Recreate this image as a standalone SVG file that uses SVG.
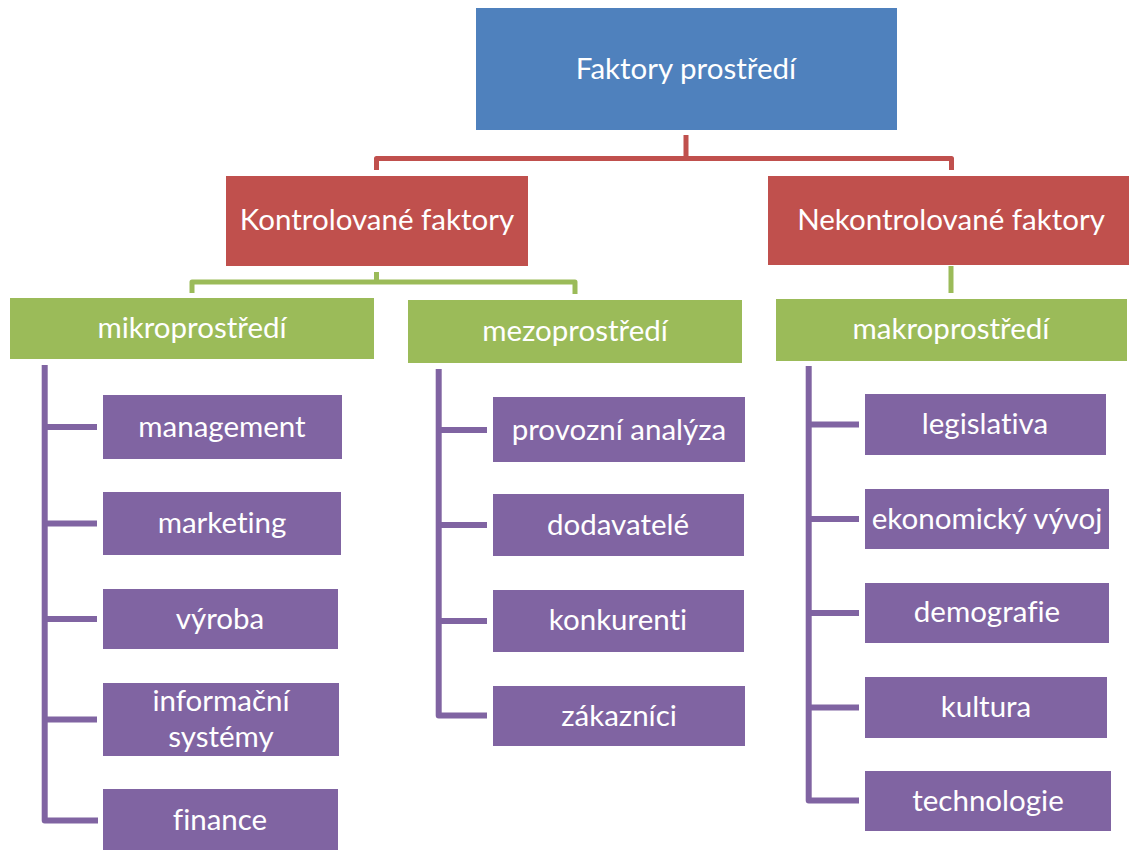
<svg xmlns="http://www.w3.org/2000/svg" width="1129" height="850" viewBox="0 0 1129 850">
  <style>
    .blue { fill: #4F81BD; }
    .red { fill: #C0504D; }
    .green { fill: #9BBB59; }
    .purple { fill: #8064A2; }
    text { font-family: Lato, "Open Sans", "Liberation Sans", sans-serif; fill: #FFFFFF; text-anchor: middle; dominant-baseline: central; font-variant-ligatures: none; }
    .t1 { font-size: 29.5px; }
    .t2 { font-size: 29.5px; }
    .c-red { fill: none; stroke: #C0504D; stroke-width: 5; stroke-linejoin: round; }
    .c-green { fill: none; stroke: #9BBB59; stroke-width: 5; stroke-linejoin: round; }
    .c-purple { fill: none; stroke: #8064A2; stroke-width: 6; stroke-linejoin: round; }
  </style>
  <rect width="1129" height="850" fill="#FFFFFF"/>

  <!-- connectors -->
  <g id="connectors">
    <path class="c-red" d="M686,135 V158.5 M376.5,170 V158.5 H951.5 V170"/>
    <path class="c-green" d="M376.5,272 V282 M192,293 V282 H575 V294"/>
    <path class="c-green" d="M951,266 V293"/>
    <!-- mikroprostředí branch -->
    <path class="c-purple" d="M44.7,365 V820.5 H98"/>
    <path class="c-purple" d="M44.7,427 H97 M44.7,523.5 H97 M44.7,619 H97 M44.7,719.5 H97"/>
    <!-- mezoprostředí branch -->
    <path class="c-purple" d="M438.7,369 V715.5 H487"/>
    <path class="c-purple" d="M438.7,430 H487 M438.7,525 H487 M438.7,621 H487"/>
    <!-- makroprostředí branch -->
    <path class="c-purple" d="M808.7,366 V800.5 H859"/>
    <path class="c-purple" d="M808.7,424.5 H859 M808.7,519 H859 M808.7,613 H859 M808.7,707.5 H859"/>
  </g>

  <g id="root">
    <rect class="blue" x="476" y="8" width="421" height="122"/>
    <text class="t1" x="686" y="67">Faktory prostředí</text>
  </g>

  <g id="kontrolovane">
    <rect class="red" x="226" y="176" width="302" height="90"/>
    <text class="t1" x="377" y="218">Kontrolované faktory</text>
  </g>
  <g id="nekontrolovane">
    <rect class="red" x="768" y="176" width="361" height="89"/>
    <text class="t1" x="951" y="218">Nekontrolované faktory</text>
  </g>

  <g id="mikro">
    <rect class="green" x="10" y="298" width="364" height="61"/>
    <text class="t2" x="192" y="326">mikroprostředí</text>
  </g>
  <g id="mezo">
    <rect class="green" x="408" y="300" width="334" height="63"/>
    <text class="t2" x="575" y="329">mezoprostředí</text>
  </g>
  <g id="makro">
    <rect class="green" x="776" y="299" width="351" height="62"/>
    <text class="t2" x="951" y="327">makroprostředí</text>
  </g>

  <!-- mikroprostředí items -->
  <g id="management">
    <rect class="purple" x="103" y="395" width="239" height="64"/>
    <text class="t2" x="222" y="425">management</text>
  </g>
  <g id="marketing">
    <rect class="purple" x="103" y="492" width="238" height="63"/>
    <text class="t2" x="222" y="521">marketing</text>
  </g>
  <g id="vyroba">
    <rect class="purple" x="103" y="589" width="235" height="60"/>
    <text class="t2" x="220" y="617">výroba</text>
  </g>
  <g id="informacni-systemy">
    <rect class="purple" x="103" y="683" width="236" height="73"/>
    <text class="t2" x="221" y="699">informační</text>
    <text class="t2" x="221" y="735">systémy</text>
  </g>
  <g id="finance">
    <rect class="purple" x="103" y="789" width="235" height="61"/>
    <text class="t2" x="220" y="818">finance</text>
  </g>

  <!-- mezoprostředí items -->
  <g id="provozni-analyza">
    <rect class="purple" x="493" y="397" width="252" height="65"/>
    <text class="t2" x="619" y="428">provozní analýza</text>
  </g>
  <g id="dodavatele">
    <rect class="purple" x="493" y="494" width="251" height="62"/>
    <text class="t2" x="618" y="523">dodavatelé</text>
  </g>
  <g id="konkurenti">
    <rect class="purple" x="493" y="590" width="251" height="62"/>
    <text class="t2" x="618" y="618">konkurenti</text>
  </g>
  <g id="zakaznici">
    <rect class="purple" x="493" y="686" width="252" height="60"/>
    <text class="t2" x="619" y="714">zákazníci</text>
  </g>

  <!-- makroprostředí items -->
  <g id="legislativa">
    <rect class="purple" x="865" y="394" width="241" height="61"/>
    <text class="t2" x="985" y="422">legislativa</text>
  </g>
  <g id="ekonomicky-vyvoj">
    <rect class="purple" x="865" y="489" width="244" height="60"/>
    <text class="t2" x="987" y="517">ekonomický vývoj</text>
  </g>
  <g id="demografie">
    <rect class="purple" x="865" y="583" width="244" height="60"/>
    <text class="t2" x="987" y="610">demografie</text>
  </g>
  <g id="kultura">
    <rect class="purple" x="865" y="677" width="242" height="61"/>
    <text class="t2" x="986" y="705">kultura</text>
  </g>
  <g id="technologie">
    <rect class="purple" x="865" y="771" width="246" height="60"/>
    <text class="t2" x="988" y="799">technologie</text>
  </g>
</svg>
